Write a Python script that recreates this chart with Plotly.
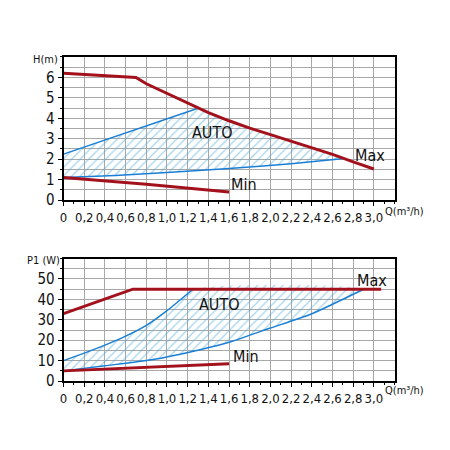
import plotly.graph_objects as go

# Head curve (top chart), Q in m3/h, H in m
h_max_q = [0, 0.7, 0.8, 1.0, 1.2, 1.4, 1.6, 1.8, 2.0, 2.2, 2.4, 2.6, 2.8, 3.0]
h_max_h = [6.2, 6.0, 5.69, 5.21, 4.76, 4.28, 3.88, 3.52, 3.2, 2.88, 2.56, 2.24, 1.87, 1.52]
h_min_q = [0, 0.8, 1.6]
h_min_h = [1.1, 0.78, 0.4]
h_auto_hi_q = [0, 1.3]
h_auto_hi_h = [2.25, 4.49]
h_auto_lo_q = [0, 0.5, 1.0, 1.6, 2.2, 2.69]
h_auto_lo_h = [1.1, 1.2, 1.35, 1.55, 1.78, 2.02]

# Power curve (bottom chart), Q in m3/h, P1 in W
p_max_q = [0, 0.67, 3.07]
p_max_p = [33, 45, 45]
p_min_q = [0, 1.6]
p_min_p = [5, 8.5]
p_auto_hi_q = [0, 0.2, 0.4, 0.6, 0.8, 1.0, 1.25]
p_auto_hi_p = [10, 13.7, 17.6, 22, 27.3, 34.5, 45]
p_auto_lo_q = [0, 0.4, 0.85, 1.33, 1.6, 2.0, 2.4, 2.9]
p_auto_lo_p = [5, 7.5, 10.4, 15.5, 19, 26, 33, 45]

q_ticks = [round(i * 0.2, 1) for i in range(16)]
q_labels = ['0' if v == 0 else f'{v:.1f}'.replace('.', ',') for v in q_ticks]

RED = '#a3121c'
BLUE = '#1a7fd4'
HATCH = '#4aa8d8'
GRID = '#a8a8a8'
FONT = 'DejaVu Sans Condensed, Liberation Sans Narrow, sans-serif'

fig = go.Figure()

# top hatched AUTO area: upper blue, then along Max, back on lower blue
top_q = list(h_auto_hi_q)
top_h = list(h_auto_hi_h)
for q, h in zip(h_max_q, h_max_h):
    if h_auto_hi_q[-1] < q < h_auto_lo_q[-1]:
        top_q.append(q)
        top_h.append(h)
top_q += h_auto_lo_q[::-1]
top_h += h_auto_lo_h[::-1]
hatch = dict(shape='/', fgcolor=HATCH, size=6, solidity=0.2)
fig.add_trace(go.Scatter(x=top_q, y=top_h, fill='toself', mode='lines',
                         line=dict(width=0),
                         fillcolor='rgba(255,255,255,0)', fillpattern=hatch,
                         xaxis='x', yaxis='y', showlegend=False))

# bottom hatched AUTO area
bot_q = p_auto_hi_q + p_auto_lo_q[::-1]
bot_p = p_auto_hi_p + p_auto_lo_p[::-1]
fig.add_trace(go.Scatter(x=bot_q, y=bot_p, fill='toself', mode='lines',
                         line=dict(width=0, shape='spline', smoothing=0.6),
                         fillcolor='rgba(255,255,255,0)', fillpattern=hatch,
                         xaxis='x2', yaxis='y2', showlegend=False))

for xs, ys, ax in [(h_auto_hi_q, h_auto_hi_h, 1), (h_auto_lo_q, h_auto_lo_h, 1),
                   (p_auto_hi_q, p_auto_hi_p, 2), (p_auto_lo_q, p_auto_lo_p, 2)]:
    fig.add_trace(go.Scatter(x=xs, y=ys, mode='lines',
                             line=dict(color=BLUE, width=1.5, shape='spline', smoothing=0.6),
                             xaxis='x' if ax == 1 else 'x2', yaxis='y' if ax == 1 else 'y2',
                             showlegend=False))

for xs, ys, ax in [(h_max_q, h_max_h, 1), (h_min_q, h_min_h, 1),
                   (p_max_q, p_max_p, 2), (p_min_q, p_min_p, 2)]:
    fig.add_trace(go.Scatter(x=xs, y=ys, mode='lines',
                             line=dict(color=RED, width=3),
                             xaxis='x' if ax == 1 else 'x2', yaxis='y' if ax == 1 else 'y2',
                             showlegend=False))

xaxis_style = dict(
    range=[0, 3.2], tickvals=q_ticks, ticktext=q_labels, tickangle=0,
    showgrid=True, gridcolor=GRID, gridwidth=1,
    showline=True, mirror=True, linecolor='black', linewidth=2,
    ticks='outside', ticklen=4, tickcolor='black',
    minor=dict(dtick=0.1, ticks='outside', ticklen=2, tickcolor='black', showgrid=False),
    tickfont=dict(family=FONT, size=13, color='#111'),
    zeroline=False, fixedrange=True,
)
yaxis_style = dict(
    showgrid=True, gridcolor=GRID, gridwidth=1,
    showline=True, mirror=True, linecolor='black', linewidth=2,
    ticks='outside', ticklen=4, tickcolor='black',
    tickfont=dict(family=FONT, size=15, color='#111'),
    zeroline=False, fixedrange=True,
)

fig.update_layout(
    width=450, height=450,
    paper_bgcolor='white', plot_bgcolor='white',
    margin=dict(l=0, r=0, t=0, b=0),
    xaxis=dict(xaxis_style, domain=[0.1156, 0.8578], anchor='y'),
    yaxis=dict(yaxis_style, domain=[0.5644, 0.8889], anchor='x', range=[0, 7],
               tickvals=[0, 1, 2, 3, 4, 5, 6],
               minor=dict(dtick=0.5, ticks='outside', ticklen=2, tickcolor='black',
                          showgrid=True, gridcolor=GRID)),
    xaxis2=dict(xaxis_style, domain=[0.1156, 0.8578], anchor='y2'),
    yaxis2=dict(yaxis_style, domain=[0.154, 0.4318], anchor='x2', range=[0, 60],
                tickvals=[0, 10, 20, 30, 40, 50],
                minor=dict(dtick=5, ticks='outside', ticklen=2, tickcolor='black',
                           showgrid=True, gridcolor=GRID)),
    showlegend=False,
)

label_font = dict(family=FONT, size=16, color='#111')
small_font = dict(family=FONT, size=11, color='#111')
notes = [
    dict(x=1.44, y=3.3, xref='x', yref='y', text='AUTO', font=label_font),
    dict(x=2.96, y=2.2, xref='x', yref='y', text='Max', font=label_font),
    dict(x=1.6, y=0.78, xref='x', yref='y', text='Min', font=label_font, xanchor='left'),
    dict(x=1.51, y=37.4, xref='x2', yref='y2', text='AUTO', font=label_font),
    dict(x=2.98, y=49.3, xref='x2', yref='y2', text='Max', font=label_font),
    dict(x=1.62, y=11.8, xref='x2', yref='y2', text='Min', font=label_font, xanchor='left'),
    dict(x=-0.012, y=0.985, xref='x domain', yref='y domain', text='H(m)', font=small_font,
         xanchor='right', yanchor='middle'),
    dict(x=-0.006, y=0.985, xref='x2 domain', yref='y2 domain', text='P1 (W)', font=small_font,
         xanchor='right', yanchor='middle'),
    dict(x=0.964, y=-0.08, xref='x domain', yref='y domain', text='Q(m³/h)', font=small_font,
         xanchor='left', yanchor='middle'),
    dict(x=0.964, y=-0.08, xref='x2 domain', yref='y2 domain', text='Q(m³/h)', font=small_font,
         xanchor='left', yanchor='middle'),
]
for n in notes:
    fig.add_annotation(showarrow=False, **n)

fig.write_html("out.html")
